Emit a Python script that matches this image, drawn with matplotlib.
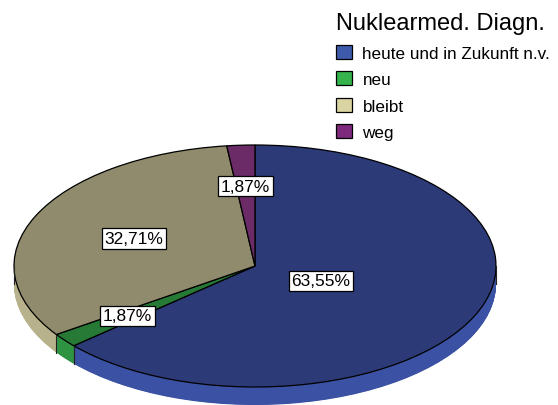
import numpy as np
import matplotlib
matplotlib.use("Agg")
from matplotlib import pyplot as plt
from matplotlib.patches import Patch

plt.rcParams['font.family'] = ['Liberation Sans', 'DejaVu Sans']

# data
categories = ["heute und in Zukunft n.v.", "neu", "bleibt", "weg"]
values = [63.55, 1.87, 32.71, 1.87]
pct_labels = ["63,55%", "1,87%", "32,71%", "1,87%"]
legend_title = "Nuklearmed. Diagn."

# styles
top_colors = ["#2c3b78", "#267a36", "#8f8b6c", "#6a2b66"]
side_colors = ["#3b51a3", "#2f9442", "#b7b28c", "#84367f"]
legend_colors = ["#3e5aab", "#35b34c", "#d9d4a2", "#7d2a7d"]
label_radius = [0.30, 0.67, 0.55, 0.66]

fig = plt.figure(figsize=(5.58, 4.06), dpi=100)
ax = fig.add_axes([0, 0, 1, 1])

depth = 0.149
n_layers = 40

# side walls: stacked pies shifted downwards
for k in range(n_layers):
    off = -depth + depth * k / n_layers
    ax.pie(values, colors=side_colors, startangle=90, counterclock=False,
           center=(0, off), wedgeprops=dict(linewidth=0, antialiased=True))

# top face
wedges, _ = ax.pie(values, colors=top_colors, startangle=90, counterclock=False,
                   center=(0, 0), wedgeprops=dict(edgecolor="black", linewidth=0.9))

# side edge lines on the front half
fracs = np.array(values) / np.sum(values)
bounds = 90 - 360 * np.concatenate([[0], np.cumsum(fracs)])
for b in list(bounds) + [180, 0]:
    t = np.deg2rad(b)
    if np.sin(t) <= 1e-9:
        x = np.cos(t)
        y = np.sin(t)
        ax.plot([x, x], [y, y - depth], color="#222222", linewidth=0.8)

# percentage labels
mids = 90 - 360 * (np.cumsum(fracs) - fracs / 2)
for lab, m, r in zip(pct_labels, mids, label_radius):
    t = np.deg2rad(m)
    ax.text(r * np.cos(t), r * np.sin(t), lab, ha="center", va="center",
            fontsize=12.5,
            bbox=dict(boxstyle="square,pad=0.15", facecolor="white",
                      edgecolor="black", linewidth=0.9))

ax.set_aspect("auto")
ax.set_xlim(-255 / 241, (558 - 255) / 241)
ax.set_ylim(-139 / 121, 267 / 121)
ax.axis("off")

handles = [Patch(facecolor=c, edgecolor="black", linewidth=0.9) for c in legend_colors]
leg = fig.legend(handles, categories, title=legend_title, loc="upper left",
                 bbox_to_anchor=(336 / 558, 1 - 13 / 406), frameon=False,
                 fontsize=12.3, title_fontsize=17, alignment="left",
                 handlelength=0.95, handleheight=0.9, handletextpad=0.6,
                 labelspacing=0.62, borderpad=0, borderaxespad=0)

fig.savefig("out.png", dpi=100)
